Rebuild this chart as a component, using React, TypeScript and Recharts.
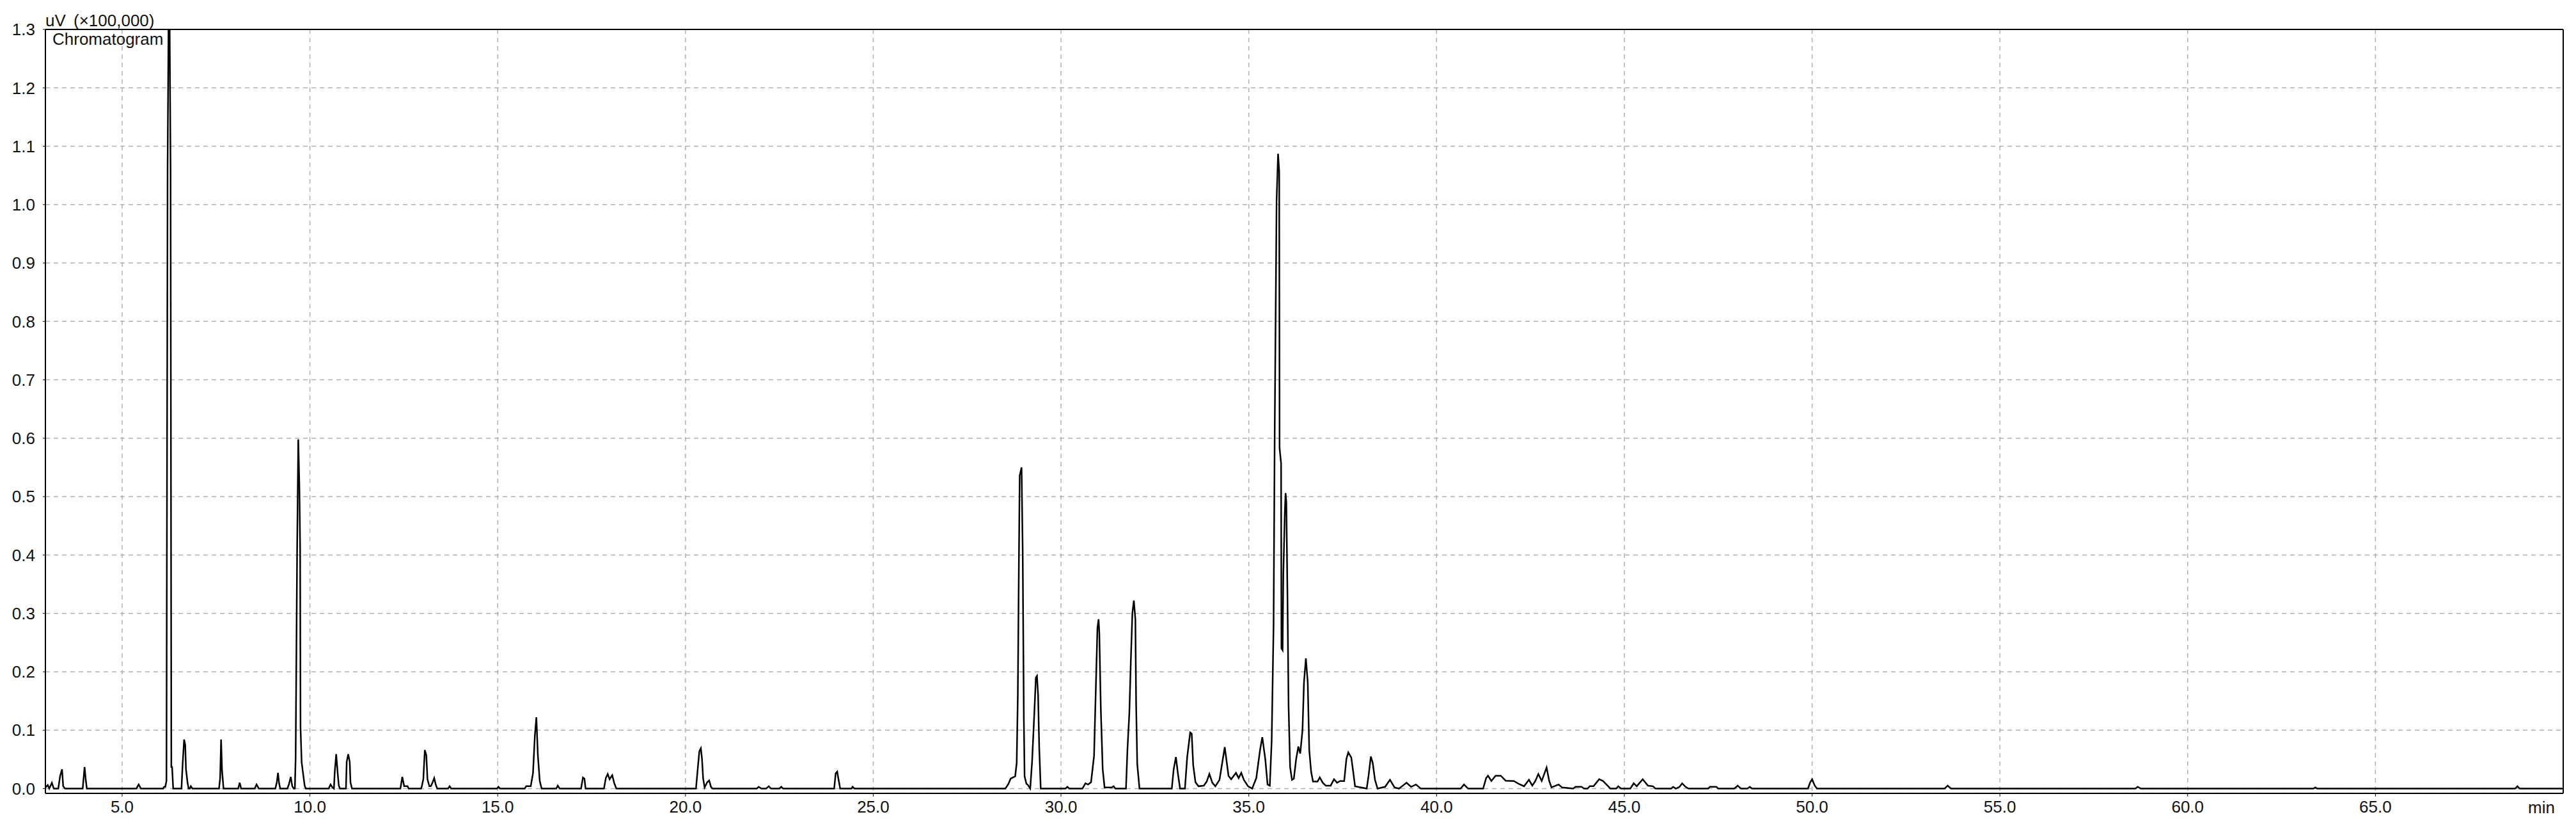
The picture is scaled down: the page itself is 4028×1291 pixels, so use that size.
import React from 'react';
import { LineChart, Line, XAxis, YAxis, CartesianGrid, ReferenceLine } from 'recharts';

// Retention time (min) / detector signal (uV x 100,000)
const traceEarly: [number, number][] = [
  [2.96, 0.002], [3.02, 0.006], [3.06, 0], [3.13, 0.01], [3.18, 0], [3.3, 0], [3.35, 0.022], [3.4, 0.033],
  [3.43, 0.004], [3.48, 0], [3.95, 0], [4.0, 0.037], [4.03, 0.016], [4.06, 0], [5.38, 0], [5.44, 0.007],
  [5.5, 0], [6.09, 0], [6.12, 0.003], [6.15, 0.003], [6.18, 0.013], [6.21, 1.06], [6.25, 1.45], [6.29, 1.06],
  [6.31, 0.037], [6.33, 0.037], [6.36, 0], [6.58, 0], [6.61, 0.04], [6.65, 0.084], [6.68, 0.075], [6.7, 0.033],
  [6.74, 0.011], [6.77, 0], [6.8, 0], [6.83, 0.004], [6.87, 0], [7.58, 0], [7.61, 0.018], [7.635, 0.084],
  [7.66, 0.031], [7.7, 0], [8.09, 0], [8.13, 0.01], [8.17, 0], [8.53, 0], [8.58, 0.007], [8.64, 0],
];

const traceNine: [number, number][] = [
  [9.08, 0], [9.12, 0.011], [9.15, 0.027], [9.18, 0.009], [9.21, 0], [9.4, 0], [9.44, 0.007], [9.49, 0.02],
  [9.53, 0.004], [9.57, 0], [9.6, 0], [9.62, 0.053], [9.66, 0.41], [9.69, 0.598], [9.72, 0.517], [9.74, 0.41],
  [9.75, 0.105], [9.78, 0.045], [9.81, 0.03], [9.86, 0.005], [9.89, 0], [10.5, 0], [10.55, 0.007], [10.6, 0.002],
  [10.64, 0], [10.66, 0.027], [10.7, 0.059], [10.74, 0.026], [10.77, 0.005], [10.8, 0], [10.96, 0], [10.98, 0.046],
  [11.02, 0.059], [11.06, 0.046], [11.08, 0.011], [11.12, 0], [12.41, 0], [12.46, 0.02], [12.51, 0.004], [12.55, 0.004],
  [12.6, 0.004], [12.63, 0], [12.96, 0], [12.98, 0.004], [13.02, 0.016], [13.06, 0.066], [13.1, 0.057], [13.13, 0.016],
  [13.18, 0.004], [13.22, 0.004], [13.27, 0.011], [13.31, 0.018], [13.35, 0.007], [13.39, 0], [13.68, 0], [13.72, 0.004],
  [13.76, 0],
];

const traceMiddle: [number, number][] = [
  [14.98, 0], [15.02, 0.003], [15.06, 0], [15.72, 0], [15.76, 0.004], [15.88, 0.004], [15.94, 0.026], [15.99, 0.091],
  [16.03, 0.122], [16.07, 0.057], [16.12, 0.013], [16.17, 0], [16.56, 0], [16.6, 0.005], [16.65, 0], [17.22, 0],
  [17.27, 0.019], [17.31, 0.017], [17.34, 0], [17.83, 0], [17.88, 0.018], [17.93, 0.025], [17.98, 0.016], [18.05, 0.023],
  [18.1, 0.01], [18.16, 0], [20.28, 0], [20.33, 0.036], [20.37, 0.064], [20.41, 0.069], [20.44, 0.051], [20.47, 0.018],
  [20.51, 0.002], [20.58, 0.011], [20.63, 0.014], [20.68, 0.003], [20.72, 0], [21.9, 0], [21.95, 0.003], [22.02, 0],
  [22.15, 0], [22.22, 0.004], [22.28, 0], [22.5, 0], [22.55, 0.003], [22.6, 0], [23.96, 0], [24.0, 0.026],
  [24.04, 0.029], [24.08, 0.014], [24.12, 0], [24.42, 0], [24.45, 0.003], [24.5, 0],
];

const traceThirty: [number, number][] = [
  [28.52, 0], [28.6, 0.008], [28.66, 0.017], [28.78, 0.021], [28.82, 0.044], [28.85, 0.16], [28.88, 0.4], [28.9, 0.536],
  [28.95, 0.55], [28.98, 0.405], [29.01, 0.122], [29.03, 0.021], [29.08, 0.008], [29.11, 0.007], [29.18, 0], [29.23, 0.046],
  [29.29, 0.13], [29.33, 0.19], [29.36, 0.193], [29.39, 0.16], [29.42, 0.07], [29.46, 0], [30.12, 0], [30.17, 0.003],
  [30.22, 0], [30.57, 0], [30.65, 0.009], [30.72, 0.007], [30.8, 0.011], [30.88, 0.056], [30.92, 0.154], [30.97, 0.275],
  [31.0, 0.29], [31.02, 0.267], [31.06, 0.136], [31.11, 0.033], [31.16, 0.002], [31.35, 0.002], [31.4, 0.004], [31.45, 0],
  [31.73, 0], [31.77, 0.068], [31.82, 0.13], [31.86, 0.22], [31.9, 0.3], [31.94, 0.322], [31.98, 0.29], [32.0, 0.146],
  [32.03, 0.042], [32.09, 0], [32.95, 0], [33.0, 0.033], [33.06, 0.054], [33.11, 0.027], [33.17, 0], [33.3, 0],
  [33.36, 0.054], [33.44, 0.096], [33.48, 0.094], [33.52, 0.04], [33.58, 0.011], [33.66, 0.004], [33.8, 0.005], [33.88, 0.012],
  [33.95, 0.025], [34.03, 0.01],
];

const traceCluster: [number, number][] = [
  [34.11, 0.004], [34.22, 0.015], [34.36, 0.071], [34.46, 0.022], [34.53, 0.016], [34.66, 0.027], [34.73, 0.018], [34.8, 0.027],
  [34.87, 0.015], [34.98, 0.004], [35.09, 0], [35.2, 0.018], [35.3, 0.066], [35.36, 0.088], [35.44, 0.05], [35.5, 0.007],
  [35.56, 0.005], [35.61, 0.083], [35.66, 0.28], [35.69, 0.61], [35.74, 1.006], [35.78, 1.087], [35.81, 1.057], [35.82, 0.583],
  [35.86, 0.557], [35.87, 0.24], [35.9, 0.237], [35.92, 0.367], [35.96, 0.474], [35.98, 0.506], [36.0, 0.49], [36.03, 0.33],
  [36.06, 0.14], [36.1, 0.037], [36.15, 0.015], [36.2, 0.017], [36.26, 0.05], [36.32, 0.072], [36.37, 0.06], [36.43, 0.1],
  [36.47, 0.182], [36.52, 0.223], [36.57, 0.182], [36.61, 0.066], [36.66, 0.029], [36.71, 0.012], [36.83, 0.012], [36.89, 0.019],
  [36.97, 0.01], [37.05, 0.005], [37.18, 0.005], [37.27, 0.016], [37.35, 0.01], [37.43, 0.013], [37.54, 0.013], [37.6, 0.051],
  [37.65, 0.062], [37.73, 0.053], [37.78, 0.029], [37.83, 0.004], [38.14, 0], [38.19, 0.022], [38.25, 0.055], [38.3, 0.044],
  [38.36, 0.015], [38.43, 0], [38.63, 0.003], [38.76, 0.015], [38.88, 0.002], [39.0, 0], [39.14, 0.007], [39.2, 0.01],
  [39.32, 0.003], [39.45, 0.007], [39.58, 0],
];

const traceLate: [number, number][] = [
  [40.64, 0], [40.73, 0.007], [40.84, 0], [41.24, 0], [41.32, 0.018], [41.37, 0.022], [41.46, 0.013], [41.57, 0.022],
  [41.71, 0.022], [41.84, 0.0135], [42.06, 0.013], [42.19, 0.008], [42.33, 0.004], [42.46, 0.015], [42.55, 0.005], [42.63, 0.013],
  [42.71, 0.025], [42.8, 0.013], [42.93, 0.036], [43.0, 0.013], [43.06, 0.002], [43.25, 0.007], [43.34, 0.002], [43.64, 0],
  [43.7, 0.003], [43.86, 0.003], [43.93, 0], [44.02, 0], [44.08, 0.004], [44.18, 0.004], [44.33, 0.016], [44.43, 0.013],
  [44.57, 0.004], [44.63, 0], [44.78, 0], [44.84, 0.004], [44.91, 0], [45.16, 0], [45.25, 0.009], [45.33, 0.004],
  [45.49, 0.016], [45.63, 0.005], [45.76, 0.004], [45.83, 0], [46.25, 0], [46.3, 0.003], [46.37, 0], [46.47, 0.003],
  [46.54, 0.009], [46.63, 0.003], [46.71, 0], [47.23, 0], [47.28, 0.003], [47.45, 0.003], [47.5, 0], [47.93, 0],
  [48.02, 0.005], [48.1, 0], [48.28, 0], [48.34, 0.003], [48.4, 0], [49.89, 0], [49.95, 0.011], [50.0, 0.016],
  [50.07, 0.005], [50.13, 0], [53.53, 0], [53.61, 0.005], [53.7, 0], [58.61, 0], [58.67, 0.003], [58.75, 0],
  [63.35, 0], [63.4, 0.002], [63.45, 0], [68.72, 0], [68.78, 0.004], [68.84, 0], [70.0, 0],
];

const xTicks = [5, 10, 15, 20, 25, 30, 35, 40, 45, 50, 55, 60, 65];
const yTicks = [0, 0.1, 0.2, 0.3, 0.4, 0.5, 0.6, 0.7, 0.8, 0.9, 1.0, 1.1, 1.2, 1.3];
const yUnitLabel = 'uV';
const yScaleLabel = '(×100,000)';
const traceTitle = 'Chromatogram';
const xUnitLabel = 'min';

const data = [...traceEarly, ...traceNine, ...traceMiddle, ...traceThirty, ...traceCluster, ...traceLate].map(
  ([t, v]) => ({ t, v })
);

const FONT = '"Liberation Sans", Arial, sans-serif';
const W = 4028;
const H = 1291;

export default function App() {
  return (
    <div style={{ position: 'absolute', left: 0, top: 0, width: W, height: H, background: '#fff', overflow: 'hidden' }}>
      <svg width={W} height={H} style={{ position: 'absolute', left: 0, top: 0 }}>
        <text x={71} y={41} fontSize={26} fontFamily={FONT} fill="#111">{yUnitLabel}</text>
        <text x={115} y={41} fontSize={26} fontFamily={FONT} fill="#111">{yScaleLabel}</text>
        <text x={82} y={70} fontSize={26} fontFamily={FONT} fill="#111">{traceTitle}</text>
        <text x={3995} y={1271} fontSize={26} fontFamily={FONT} fill="#111" textAnchor="end">{xUnitLabel}</text>
      </svg>
      <div style={{ position: 'absolute', left: 0, top: 0 }}>
        <LineChart width={W} height={H} data={data} margin={{ top: 46, right: 20, bottom: 0, left: 0 }}>
          <CartesianGrid stroke="#b0b0b0" strokeDasharray="7 6" strokeWidth={1.5} />
          <XAxis
            type="number"
            dataKey="t"
            domain={[2.957, 70]}
            allowDataOverflow
            ticks={xTicks}
            tickFormatter={(v: number) => v.toFixed(1)}
            height={51}
            tickSize={5}
            tickMargin={7}
            axisLine={{ stroke: '#000', strokeWidth: 2 }}
            tickLine={{ stroke: '#000' }}
            tick={{ fill: '#111', fontSize: 26, fontFamily: FONT }}
            interval={0}
          />
          <YAxis
            type="number"
            domain={[-0.0082, 1.3]}
            allowDataOverflow
            ticks={yTicks}
            tickFormatter={(v: number) => v.toFixed(1)}
            width={71}
            tickSize={4}
            tickMargin={12}
            axisLine={{ stroke: '#000', strokeWidth: 2 }}
            tickLine={{ stroke: '#000' }}
            tick={{ fill: '#111', fontSize: 26, fontFamily: FONT }}
            interval={0}
          />
          <ReferenceLine y={1.3} stroke="#000" strokeWidth={2} />
          <ReferenceLine x={70} stroke="#000" strokeWidth={2} />
          <Line
            type="linear"
            dataKey="v"
            stroke="#000"
            strokeWidth={2.5}
            dot={false}
            activeDot={false}
            isAnimationActive={false}
          />
        </LineChart>
      </div>
    </div>
  );
}
